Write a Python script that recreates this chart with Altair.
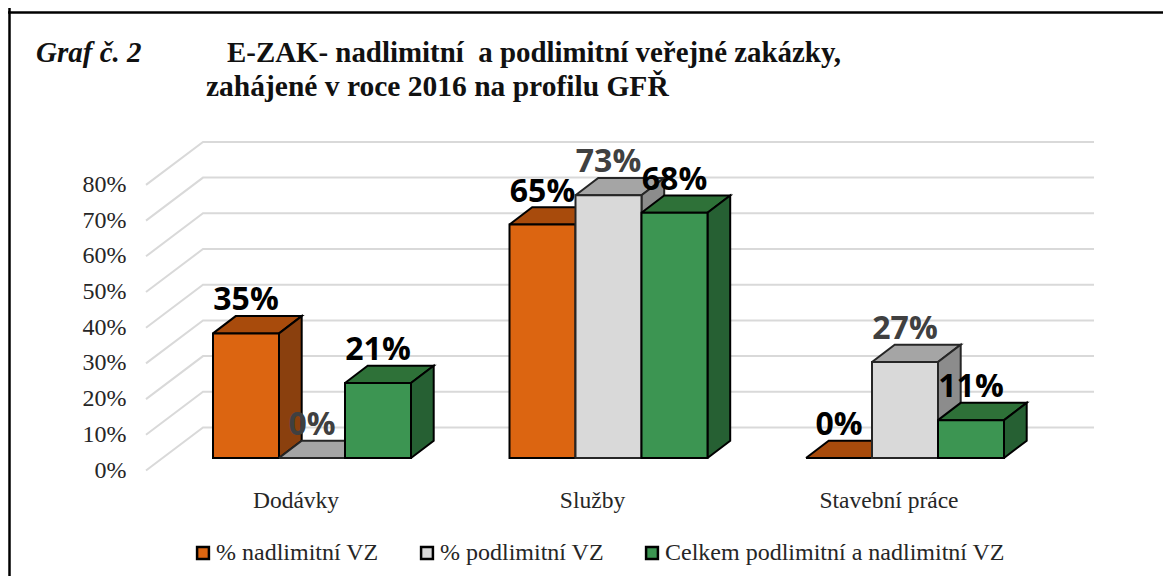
import altair as alt
import pandas as pd

categories = ["Dodávky", "Služby", "Stavební práce"]
series = ["% nadlimitní VZ", "% podlimitní VZ", "Celkem podlimitní a nadlimitní VZ"]
nadlimitni = [34.9, 65.4, 0]
podlimitni = [0, 73.6, 26.9]
celkem = [21.0, 68.7, 10.6]
labels_nad = ["35%", "65%", "0%"]
labels_pod = ["0%", "73%", "27%"]
labels_cel = ["21%", "68%", "11%"]
y_ticks = [0, 10, 20, 30, 40, 50, 60, 70, 80]

front = ["#DC6511", "#D9D9D9", "#3C9552"]
top = ["#A84B0C", "#A5A5A5", "#2E7138"]
side = ["#8A400E", "#8C8C8C", "#266033"]
edge = ["#000000", "#262626", "#000000"]
label_col = ["#000000", "#404040", "#000000"]

W, H = 1155, 568
PX = 3.57              # px per percent
BASE = 458 - 8         # baseline of the bars inside the chart
xs = alt.Scale(domain=[0, W], nice=False, zero=False)
ys = alt.Scale(domain=[(BASE - H) / PX, BASE / PX], nice=False, zero=False)
SERIF = "Liberation Serif"

X_FIRST, STEP, BW = 205, 296.5, 66
DX, DY = 22.7, 17.3 / PX
XCENTERS = [X_FIRST + i * STEP + 1.5 * BW - 16.5 for i in range(3)]

x_axis = alt.Axis(
    values=XCENTERS, domain=False, ticks=False, grid=False, title=None, offset=-(H - 480),
    labelExpr="datum.value < 400 ? 'Dodávky' : datum.value < 700 ? 'Služby' : 'Stavební práce'",
    labelFont=SERIF, labelFontSize=23.5, labelColor="#262626", labelPadding=0, labelOverlap=False,
    labelFlush=False,
)
y_axis = alt.Axis(
    values=y_ticks, domain=False, ticks=False, grid=False, title=None, offset=-118,
    labelExpr="datum.value + '%'", labelFont=SERIF, labelFontSize=24, labelColor="#262626",
    labelPadding=0, labelOffset=12,
)

fill_enc = alt.Fill(
    "s:N",
    scale=alt.Scale(domain=series, range=front),
    legend=alt.Legend(
        title=None, orient="none", legendX=183, legendY=533, direction="horizontal",
        symbolType="square", symbolSize=140, symbolStrokeColor="#000000", symbolStrokeWidth=2.5,
        labelFont=SERIF, labelFontSize=24, labelColor="#262626", columnPadding=36, labelOffset=1,
        labelLimit=500,
    ),
)


def X(name="x"):
    return alt.X(f"{name}:Q", scale=xs, axis=x_axis)


def Y(name="y"):
    return alt.Y(f"{name}:Q", scale=ys, axis=y_axis)


layers = []

# wall / floor grid
grid_rows = []
back_off = 30.5 / PX
for v in y_ticks:
    yb = v + back_off
    for i, (x, y) in enumerate([(146 - 8, yb - 43 / PX), (203 - 8, yb), (1094 - 8, yb)]):
        grid_rows.append({"x": x, "y": y, "v": v, "i": i})
layers.append(
    alt.Chart(pd.DataFrame(grid_rows)).mark_line(stroke="#D9D9D9", strokeWidth=2).encode(
        x=X(), y=Y(), detail="v:N", order="i:Q",
    )
)


def poly(points, fill, stroke):
    df = pd.DataFrame([{"x": x, "y": y, "i": i} for i, (x, y) in enumerate(points)])
    return alt.Chart(df).mark_line(
        fill=fill, stroke=stroke, strokeWidth=2, strokeJoin="miter"
    ).encode(x=X(), y=Y(), order="i:Q")


all_vals = [nadlimitni, podlimitni, celkem]
all_labels = [labels_nad, labels_pod, labels_cel]
label_rows = []
for c, cat in enumerate(categories):
    for s, name in enumerate(series):
        v = all_vals[s][c]
        x0 = X_FIRST + c * STEP + s * BW
        x1 = x0 + BW
        layers.append(poly([(x0, v), (x0 + DX, v + DY), (x1 + DX, v + DY), (x1, v), (x0, v)], top[s], edge[s]))
        layers.append(poly([(x1, 0), (x1 + DX, DY), (x1 + DX, v + DY), (x1, v), (x1, 0)], side[s], edge[s]))
        bar = pd.DataFrame([{"x": x0, "x2": x1, "y": 0, "y2": v, "s": name}])
        layers.append(
            alt.Chart(bar).mark_rect(stroke=edge[s], strokeWidth=2).encode(
                x=X(), x2="x2:Q", y=Y(), y2="y2:Q", fill=fill_enc
            )
        )
        label_rows.append({"x": x0 + BW / 2, "y": v, "t": all_labels[s][c], "col": label_col[s]})

layers.append(
    alt.Chart(pd.DataFrame(label_rows)).mark_text(
        font="Open Sans", fontWeight="bold", fontSize=32, baseline="alphabetic", align="center", dy=-23
    ).encode(x=X(), y=Y(), text="t:N", color=alt.Color("col:N", scale=None))
)

# frame (open towards right and bottom, cut by the picture)
frame_v = pd.DataFrame([{"x": 1.5}])
frame_h = pd.DataFrame([{"y": (BASE - 4.5) / PX}])
layers.append(alt.Chart(frame_v).mark_rule(stroke="#000000", strokeWidth=2.5).encode(x=X()))
layers.append(alt.Chart(frame_h).mark_rule(stroke="#000000", strokeWidth=2.5).encode(y=Y()))

titles = [
    ("Graf č. 2", 28, 54, "italic", 29),
    ("E-ZAK- nadlimitní\u00a0 a podlimitní veřejné zakázky,", 219, 54, "normal", 28.9),
    ("zahájené v roce 2016 na profilu GFŘ", 198, 88, "normal", 29.5),
]
for txt, x, y, style, size in titles:
    layers.append(
        alt.Chart(pd.DataFrame([{"t": txt}])).mark_text(
            font=SERIF, fontWeight="bold", fontStyle=style, fontSize=size, align="left", baseline="alphabetic",
            color="#111111",
        ).encode(x=alt.value(x), y=alt.value(y), text="t:N")
    )

chart = alt.layer(*layers).properties(
    width=W, height=H, padding=0, autosize=alt.AutoSizeParams(type="none"), background="white"
).configure_view(stroke=None)

chart.save("out.html", embed_options={"renderer": "svg", "actions": False})
